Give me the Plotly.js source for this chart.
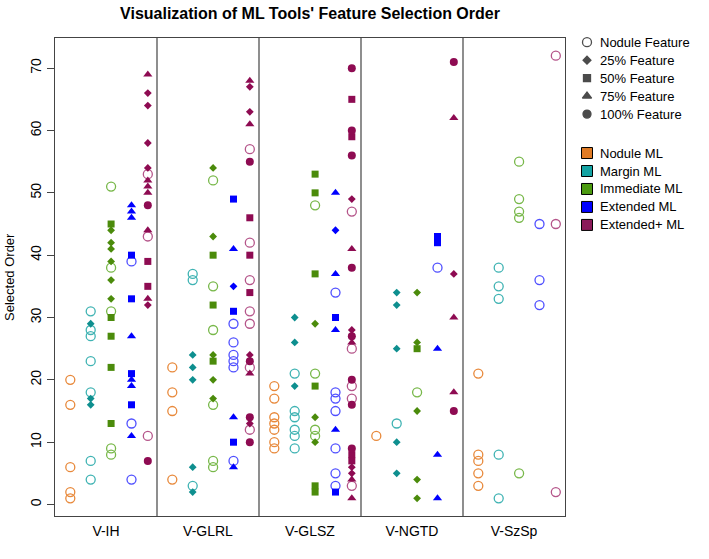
<!DOCTYPE html>
<html><head><meta charset="utf-8">
<script src="https://cdn.plot.ly/plotly-3.0.1.min.js"></script>
<style>html,body{margin:0;padding:0;background:#fff;} #chart{width:709px;height:559px;}</style>
</head><body><div id="chart"></div>
<script>
const categories = ['V-IH','V-GLRL','V-GLSZ','V-NGTD','V-SzSp'];
const mlNames = ['Nodule ML','Margin ML','Immediate ML','Extended ML','Extended+ ML'];
const featureNames = ['Nodule Feature','25% Feature','50% Feature','75% Feature','100% Feature'];
const yTicks = [0,10,20,30,40,50,60,70];

// Each array: one list of selected-order values per category (V-IH, V-GLRL, V-GLSZ, V-NGTD, V-SzSp)
// Nodule ML
const noduleNod  = [[20,16,6,2,1],[22,18,15,4],[19,17,14,13,12,10,9],[11],[21,8,7,5,3]];
const nodule25   = [[],[],[],[],[]];
const nodule50   = [[],[],[],[],[]];
const nodule75   = [[],[],[],[],[]];
const nodule100  = [[],[],[],[],[]];
// Margin ML
const marginNod  = [[31,28,27,23,18,7,4],[37,36,3],[21,15,14,12,11,9],[13],[38,35,33,8,1]];
const margin25   = [[29,17,16],[24,22,20,6,2],[30,26,19],[34,32,25,10,5],[]];
const margin50   = [[],[],[],[],[]];
const margin75   = [[],[],[],[],[]];
const margin100  = [[],[],[],[],[]];
// Immediate ML
const immedNod   = [[51,38,31,9,8],[52,35,28,16,7,6],[48,21,12,11],[18],[55,49,47,46,5]];
const immed25    = [[44,42,41,39,36,33],[54,43,24,20,17],[29,14,10],[34,26,15,4,1],[]];
const immed50    = [[45,30,27,22,13],[40,32,23],[53,50,37,19,3,2],[25],[]];
const immed75    = [[],[],[],[],[]];
const immed100   = [[],[],[],[],[]];
// Extended ML
const extNod     = [[39,13,4],[29,26,24,23,22,7],[34,18,17,15,9,5,3],[38],[45,36,32]];
const ext25      = [[],[35],[44],[],[]];
const ext50      = [[40,33,21,16],[49,31,10],[30,2],[43,42],[]];
const ext75      = [[48,47,46,27,20,19,11],[41,14,6],[50,37,28,12],[25,8,1],[]];
const ext100     = [[],[],[],[],[]];
// Extended+ ML
const extpNod    = [[53,43,11],[57,42,36,31,29,22,12],[47,25,19,17,3],[],[72,45,2]];
const extp25     = [[66,64,58,54,32],[67,63,24,13],[49,28,27,6,5],[37],[]];
const extp50     = [[39,35],[46,40,34],[65,59,8,7],[],[]];
const extp75     = [[69,52,51,50,44,33],[68,61,21],[41,26,4,1],[62,30,18],[]];
const extp100    = [[48,7],[55,23,14,10],[70,60,56,38,27,20,16,9],[71,15],[]];

const seriesByML = [
  [noduleNod, nodule25, nodule50, nodule75, nodule100],
  [marginNod, margin25, margin50, margin75, margin100],
  [immedNod, immed25, immed50, immed75, immed100],
  [extNod, ext25, ext50, ext75, ext100],
  [extpNod, extp25, extp50, extp75, extp100]
];

// styles
const offsets = [0.15, 0.35, 0.55, 0.75, 0.91];
const fillColors = ['#E3801F','#0E8F8F','#4B8B0B','#0000FF','#8E0B52'];
const openColors = ['#E8893B','#3FB3B3','#78B84A','#4F4FFF','#B5558A'];
const legendColors = ['#E07B25','#14A3A3','#4B9A10','#0000FF','#8B1A5A'];
const symbols = ['circle-open','diamond','square','triangle-up','circle'];
const sizes = [9, 6, 7, 8, 8];
const FONT = 'Liberation Sans, Arial, Helvetica, sans-serif';

// plot-area geometry (pixels)
const W = 709, H = 559;
const plotL = 55, plotR = 565, plotT = 37.8, plotB = 516.5;

const traces = [];
seriesByML.forEach((feats, m) => {
  feats.forEach((perCat, f) => {
    const xs = [], ys = [];
    perCat.forEach((vals, c) => vals.forEach(v => { xs.push(c + offsets[m]); ys.push(v); }));
    if (!xs.length) return;
    traces.push({
      type: 'scatter', mode: 'markers', x: xs, y: ys, showlegend: false, hoverinfo: 'y',
      cliponaxis: false,
      marker: f === 0
        ? {symbol: symbols[f], size: sizes[f], color: openColors[m], line: {color: openColors[m], width: 1.3}}
        : {symbol: symbols[f], size: sizes[f], color: fillColors[m], line: {width: 0}}
    });
  });
});

// manual legend on an overlay axis measured in pixels
const legX = 587, legTextX = 598;
const featY = [42, 60, 78, 96, 114];
const mlY = [153, 171, 189, 207, 225];
traces.push({
  type: 'scatter', mode: 'markers', xaxis: 'x2', yaxis: 'y2', showlegend: false, hoverinfo: 'skip',
  x: featY.map(() => legX), y: featY, cliponaxis: false,
  marker: {symbol: symbols, size: [9, 6, 7, 8, 8], color: '#000', line: {color: '#000', width: 1.3}}
});
traces.push({
  type: 'scatter', mode: 'markers', xaxis: 'x2', yaxis: 'y2', showlegend: false, hoverinfo: 'skip',
  x: mlY.map(() => legX), y: mlY, cliponaxis: false,
  marker: {symbol: 'square', size: 11, color: legendColors, line: {color: '#000', width: 1}}
});

const plotW = W - plotL; // paper width with r = 0
const annotations = [];
featureNames.forEach((t, i) => annotations.push({xref: 'x2', yref: 'y2', x: legTextX, y: featY[i], text: t, showarrow: false, xanchor: 'left', yanchor: 'middle', font: {family: FONT, size: 13, color: '#000'}}));
mlNames.forEach((t, i) => annotations.push({xref: 'x2', yref: 'y2', x: legTextX, y: mlY[i], text: t, showarrow: false, xanchor: 'left', yanchor: 'middle', font: {family: FONT, size: 13, color: '#000'}}));
annotations.push({xref: 'paper', yref: 'paper', x: (9 - plotL) / plotW, y: 0.5, text: 'Selected Order', textangle: -90, showarrow: false, xanchor: 'center', yanchor: 'middle', font: {family: FONT, size: 13, color: '#000'}});

const shapes = [1,2,3,4].map(x => ({type: 'line', xref: 'x', yref: 'paper', x0: x, x1: x, y0: 0, y1: 1, line: {color: '#444', width: 1.2}}));

const plotFrac = (plotR - plotL) / plotW;
const layout = {
  width: W, height: H,
  margin: {l: plotL, r: 0, t: plotT, b: H - plotB},
  paper_bgcolor: '#fff', plot_bgcolor: '#fff',
  font: {family: FONT, color: '#000'},
  title: {text: "Visualization of ML Tools' Feature Selection Order", x: 310 / W, xanchor: 'center', xref: 'container', y: 1 - 13 / H, yanchor: 'middle', yref: 'container', font: {family: FONT, size: 16, weight: 'bold', color: '#000'}},
  xaxis: {domain: [0, plotFrac], range: [0, 5], tickvals: [0.5,1.5,2.5,3.5,4.5], ticktext: categories, ticks: '', showgrid: false, zeroline: false, showline: true, mirror: true, linecolor: '#444', linewidth: 1.2, tickfont: {family: FONT, size: 14, color: '#000'}, ticklabelstandoff: 2},
  yaxis: {range: [-1.84, 74.84], tickvals: yTicks, ticks: 'outside', ticklen: 7, tickwidth: 1, tickcolor: '#444', tickangle: -90, showgrid: false, zeroline: false, showline: true, mirror: true, linecolor: '#444', linewidth: 1.2, tickfont: {family: FONT, size: 14, color: '#000'}},
  xaxis2: {domain: [plotFrac, 1], range: [plotR, W], anchor: 'y2', visible: false, fixedrange: true},
  yaxis2: {domain: [0, 1], range: [plotB, plotT], anchor: 'x2', visible: false, fixedrange: true},
  shapes: shapes,
  annotations: annotations,
  showlegend: false
};
Plotly.newPlot('chart', traces, layout, {displayModeBar: false, staticPlot: true});
</script></body></html>
